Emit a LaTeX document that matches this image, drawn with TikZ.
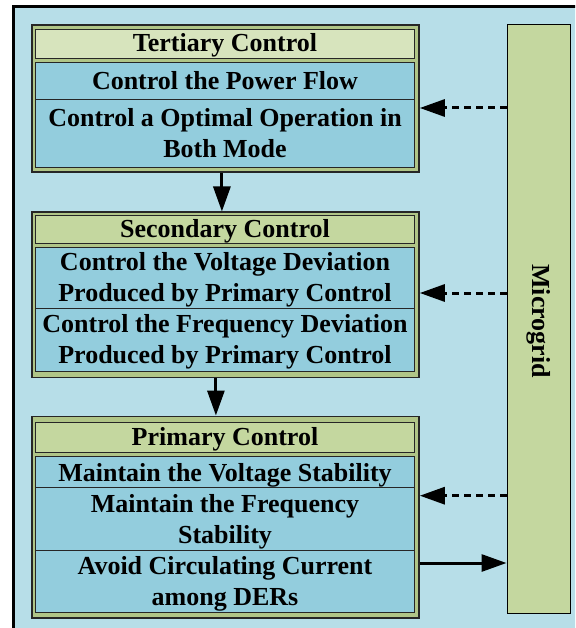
\documentclass[tikz,border=0pt]{standalone}
\usepackage{fontspec}
\setmainfont{Liberation Serif}
\usetikzlibrary{arrows.meta}
\definecolor{bgblue}{HTML}{B7DEE8}
\definecolor{rowblue}{HTML}{93CDDD}
\definecolor{grpolive}{HTML}{B0C587}
\definecolor{titleolive}{HTML}{C4D79F}
\definecolor{titlelight}{HTML}{D7E4BD}
\definecolor{edgecol}{HTML}{262626}
\begin{document}
\begin{tikzpicture}[x=1pt,y=-1pt,
  lbl/.style={font=\fontsize{26}{31}\selectfont\bfseries},
  grp/.style={draw=edgecol, line width=1.8pt, fill=grpolive, anchor=north west, inner sep=0pt, minimum width=387pt},
  ttl/.style={lbl, draw=edgecol, line width=1pt, fill=titleolive, anchor=north west, inner sep=0pt, minimum width=379pt, text height=16.5pt, text depth=0pt},
  rowbox/.style={lbl, draw=edgecol, line width=1pt, fill=rowblue, anchor=north west, inner sep=0pt, minimum width=379pt, align=center},
  oneline/.style={rowbox, text height=18pt, text depth=0pt},
  twoline/.style={rowbox, text height=48pt, text depth=0pt},
  mgbox/.style={draw=black, line width=1.4pt, fill=titleolive, anchor=north west, inner sep=0pt, minimum width=63pt},
  arr/.style={line width=3pt, -{Triangle[length=25pt,width=17pt]}},
  darr/.style={arr, dash pattern=on 7pt off 5pt}
]
\useasboundingbox (0,0) rectangle (575,628);
\clip (0,0) rectangle (575,628);
\fill[white] (0,0) rectangle (575,628);
\draw[line width=3pt, fill=bgblue] (13.5,6.5) rectangle (640,700);

% Tertiary
\node[grp, minimum height=147.5pt] (tg) at (31,24) {};
\node[ttl, fill=titlelight, minimum height=29pt] (tt) at (35,28.7) {Tertiary Control};
\node[oneline, minimum height=37pt] (t1) at (35,61.7) {Control the Power Flow};
\node[twoline, minimum height=68pt] (t2) at (35,98.7) {Control a Optimal Operation in\\Both Mode};

% Secondary
\node[grp, minimum height=165pt] (sg) at (31,211.5) {};
\node[ttl, minimum height=28pt] (st) at (35,215) {Secondary Control};
\node[twoline, minimum height=61pt] (s1) at (35,246.7) {Control the Voltage Deviation\\Produced by Primary Control};
\node[twoline, minimum height=63pt] (s2) at (35,307.7) {Control the Frequency Deviation\\Produced by Primary Control};

% Primary
\node[grp, minimum height=201.5pt] (pg) at (31,415.5) {};
\node[ttl, minimum height=29.5pt] (pt) at (35,422) {Primary Control};
\node[oneline, minimum height=31pt] (p1) at (35,456) {Maintain the Voltage Stability};
\node[twoline, minimum height=63pt] (p2) at (35,487) {Maintain the Frequency\\Stability};
\node[twoline, minimum height=62pt] (p3) at (35,550) {Avoid Circulating Current\\among DERs};

% Microgrid
\node[mgbox, minimum height=589pt] (mg) at (506.5,24) {};
\node[lbl, rotate=-90] (mgl) at ([yshift=-2pt]mg.center) {Microgrid};

% Arrows
\draw[arr] ([xshift=-3.5pt]tg.south) -- ([xshift=-3.5pt]sg.north);
\draw[arr] ([xshift=-9.5pt]sg.south) -- ([xshift=-9.5pt]pg.north);
\draw[darr] (mg.west |- 0,108) -- (tg.east |- 0,108);
\draw[darr] (mg.west |- 0,293) -- (sg.east |- 0,293);
\draw[darr] (mg.west |- 0,495.7) -- (pg.east |- 0,495.7);
\draw[arr] (pg.east |- 0,563) -- (mg.west |- 0,563);
\end{tikzpicture}
\end{document}
